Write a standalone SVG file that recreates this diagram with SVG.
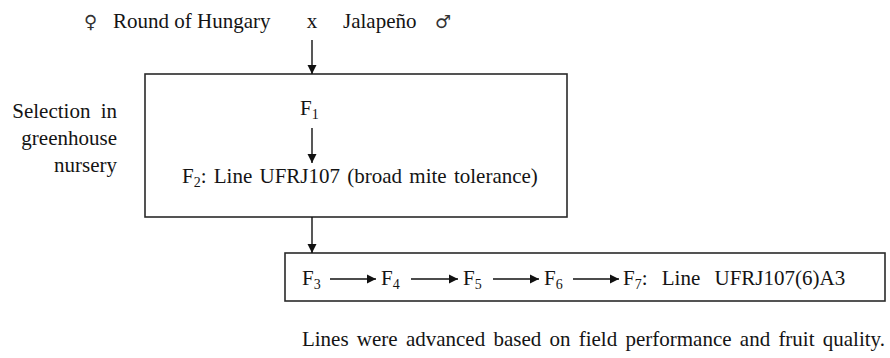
<svg xmlns="http://www.w3.org/2000/svg" width="890" height="358" viewBox="0 0 890 358" font-family="'Liberation Serif', 'Times New Roman', serif">
  <defs>
    <marker id="head" viewBox="0 0 10 10" refX="10" refY="5" markerWidth="9" markerHeight="10" markerUnits="userSpaceOnUse" orient="auto">
      <path d="M0,0 L10,5 L0,10 Z" fill="#111"/>
    </marker>
    <style>
      text { font-family: "Liberation Serif", "Times New Roman", serif; font-size: 21px; fill: #141414; }
      .sym { font-family: "DejaVu Sans", sans-serif; font-size: 18px; fill: #333; }
      .sub { font-size: 14px; }
      .box { fill: none; stroke: #2a2a2a; stroke-width: 1.6; }
      .wire { fill: none; stroke: #111; stroke-width: 1.4; marker-end: url(#head); }
    </style>
  </defs>
  <rect width="890" height="358" fill="#fff"/>

  <!-- parental cross -->
  <g id="cross">
    <text class="sym" x="84" y="28">♀</text>
    <text x="113" y="28">Round  of Hungary</text>
    <text x="312" y="28" text-anchor="middle">x</text>
    <text x="343" y="28">Jalapeño</text>
    <text class="sym" x="435" y="28">♂</text>
  </g>

  <!-- side label -->
  <g id="selection-label">
    <text x="117" y="118" text-anchor="end" word-spacing="5">Selection in</text>
    <text x="117" y="145" text-anchor="end">greenhouse</text>
    <text x="117" y="172" text-anchor="end">nursery</text>
  </g>

  <!-- greenhouse generations -->
  <g id="greenhouse-box">
    <rect class="box" x="145" y="74" width="422" height="143"/>
    <text x="300" y="115">F<tspan class="sub" dy="4">1</tspan></text>
    <text x="182" y="183">F<tspan class="sub" dy="4">2</tspan><tspan dy="-4" word-spacing="2">: Line UFRJ107 (broad mite tolerance)</tspan></text>
  </g>

  <!-- field generations -->
  <g id="field-box">
    <rect class="box" x="285" y="253" width="600" height="48"/>
    <text x="302" y="285">F<tspan class="sub" dy="4">3</tspan></text>
    <text x="381" y="285">F<tspan class="sub" dy="4">4</tspan></text>
    <text x="463" y="285">F<tspan class="sub" dy="4">5</tspan></text>
    <text x="544" y="285">F<tspan class="sub" dy="4">6</tspan></text>
    <text x="623" y="285">F<tspan class="sub" dy="4">7</tspan><tspan dy="-4" word-spacing="9">: Line UFRJ107(6)A3</tspan></text>
  </g>

  <!-- note -->
  <g id="note">
    <text x="885" y="346" text-anchor="end" word-spacing="3">Lines were advanced based on field performance and fruit quality.</text>
  </g>

  <!-- connectors -->
  <g id="connectors">
    <line class="wire" x1="312" y1="40" x2="312" y2="74"/>
    <line class="wire" x1="312" y1="128" x2="312" y2="163"/>
    <line class="wire" x1="312" y1="217" x2="312" y2="253"/>
    <line class="wire" x1="330" y1="279" x2="376" y2="279"/>
    <line class="wire" x1="411" y1="279" x2="458" y2="279"/>
    <line class="wire" x1="493" y1="279" x2="539" y2="279"/>
    <line class="wire" x1="573" y1="279" x2="619" y2="279"/>
  </g>
</svg>
